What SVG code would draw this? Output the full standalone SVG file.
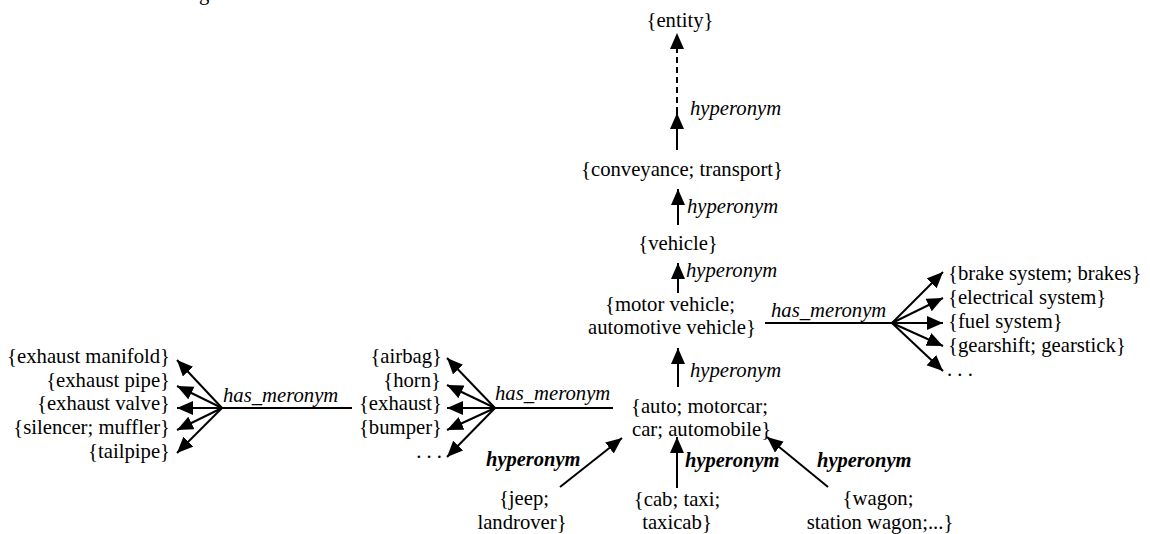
<svg xmlns="http://www.w3.org/2000/svg" width="1150" height="534" viewBox="0 0 1150 534">
  <style>
    .t { font-family: "Liberation Serif", "Times New Roman", serif; font-size: 20.7px; fill: #000; }
    .mid { text-anchor: middle; }
    .end { text-anchor: end; }
    .rel { font-family: "Liberation Serif", "Times New Roman", serif; font-size: 20.7px; font-style: italic; fill: #000; }
    .relb { font-family: "Liberation Serif", "Times New Roman", serif; font-size: 20.5px; font-style: italic; font-weight: bold; fill: #000; }
    .edge { stroke: #000; stroke-width: 2; fill: none; marker-end: url(#arrow); }
    .plain { stroke: #000; stroke-width: 2; fill: none; }
    .dash { stroke-dasharray: 6 4; }
  </style>
  <defs>
    <marker id="arrow" markerUnits="userSpaceOnUse" markerWidth="17" markerHeight="15" refX="16" refY="7" orient="auto">
      <path d="M0,0 L16,7 L0,14 Z" fill="#000"/>
    </marker>
  </defs>
  <rect width="1150" height="534" fill="#fff"/>

  <!-- descender of a line above the frame -->
  <text class="t" x="199" y="0">g</text>

  <!-- synset nodes -->
  <g id="entity"><text class="t mid" x="680" y="27">{entity}</text></g>
  <g id="conveyance"><text class="t mid" x="682" y="176">{conveyance; transport}</text></g>
  <g id="vehicle"><text class="t mid" x="678" y="250">{vehicle}</text></g>
  <g id="motor-vehicle">
    <text class="t mid" x="670" y="311">{motor vehicle;</text>
    <text class="t mid" x="672" y="334">automotive vehicle}</text>
  </g>
  <g id="auto">
    <text class="t" x="631" y="413">{auto; motorcar;</text>
    <text class="t" x="632" y="436">car; automobile}</text>
  </g>
  <g id="motor-vehicle-parts">
    <text class="t" x="948" y="280">{brake system; brakes}</text>
    <text class="t" x="948" y="304">{electrical system}</text>
    <text class="t" x="948" y="328">{fuel system}</text>
    <text class="t" x="948" y="352">{gearshift; gearstick}</text>
    <text class="t" x="947" y="376">. . .</text>
  </g>
  <g id="auto-parts">
    <text class="t end" x="442" y="363">{airbag}</text>
    <text class="t end" x="441" y="387">{horn}</text>
    <text class="t end" x="442" y="410">{exhaust}</text>
    <text class="t end" x="442" y="434">{bumper}</text>
    <text class="t end" x="442" y="458">. . .</text>
  </g>
  <g id="exhaust-parts">
    <text class="t end" x="170" y="363">{exhaust manifold}</text>
    <text class="t end" x="170" y="387">{exhaust pipe}</text>
    <text class="t end" x="170" y="410">{exhaust valve}</text>
    <text class="t end" x="170" y="434">{silencer; muffler}</text>
    <text class="t end" x="170" y="458">{tailpipe}</text>
  </g>
  <g id="jeep">
    <text class="t mid" x="524" y="505">{jeep;</text>
    <text class="t mid" x="522" y="529">landrover}</text>
  </g>
  <g id="cab">
    <text class="t mid" x="677" y="506">{cab; taxi;</text>
    <text class="t mid" x="677" y="529">taxicab}</text>
  </g>
  <g id="wagon">
    <text class="t mid" x="878" y="505">{wagon;</text>
    <text class="t mid" x="880" y="529">station wagon;...}</text>
  </g>

  <!-- relations -->
  <g id="connectors">
    <!-- hyperonym chain -->
    <line class="edge" x1="677" y1="150" x2="677" y2="113"/>
    <line class="edge dash" x1="677" y1="113" x2="677" y2="33"/>
    <line class="edge" x1="678" y1="225" x2="678" y2="189"/>
    <line class="edge" x1="678" y1="293" x2="678" y2="263"/>
    <line class="edge" x1="678" y1="387" x2="678" y2="348"/>

    <!-- motor vehicle meronyms -->
    <line class="plain" x1="765" y1="323" x2="892" y2="323"/>
    <line class="edge" x1="892" y1="323" x2="943" y2="272"/>
    <line class="edge" x1="892" y1="323" x2="943" y2="298"/>
    <line class="edge" x1="892" y1="323" x2="943" y2="323"/>
    <line class="edge" x1="892" y1="323" x2="943" y2="346"/>
    <line class="edge" x1="892" y1="323" x2="943" y2="371"/>

    <!-- auto meronyms -->
    <line class="plain" x1="613" y1="408" x2="495" y2="408"/>
    <line class="edge" x1="495" y1="408" x2="447" y2="358"/>
    <line class="edge" x1="495" y1="408" x2="447" y2="385"/>
    <line class="edge" x1="495" y1="408" x2="447" y2="408"/>
    <line class="edge" x1="495" y1="408" x2="447" y2="430"/>
    <line class="edge" x1="495" y1="408" x2="447" y2="457"/>

    <!-- exhaust meronyms -->
    <line class="plain" x1="352" y1="408" x2="222" y2="408"/>
    <line class="edge" x1="222" y1="408" x2="177" y2="360"/>
    <line class="edge" x1="222" y1="408" x2="177" y2="386"/>
    <line class="edge" x1="222" y1="408" x2="177" y2="408"/>
    <line class="edge" x1="222" y1="408" x2="177" y2="430"/>
    <line class="edge" x1="222" y1="408" x2="177" y2="453"/>

    <!-- hyponyms of auto -->
    <line class="edge" x1="560" y1="487" x2="622" y2="438"/>
    <line class="edge" x1="677" y1="488" x2="677" y2="437"/>
    <line class="edge" x1="828" y1="487" x2="767" y2="437"/>

    <!-- relation labels -->
    <text class="rel" x="690" y="115">hyperonym</text>
    <text class="rel" x="687" y="213">hyperonym</text>
    <text class="rel" x="686" y="277">hyperonym</text>
    <text class="rel" x="690" y="377">hyperonym</text>
    <text class="rel" x="771" y="317">has_meronym</text>
    <text class="rel" x="495" y="400">has_meronym</text>
    <text class="rel" x="223" y="402">has_meronym</text>
    <text class="relb" x="486" y="466">hyperonym</text>
    <text class="relb" x="685" y="467">hyperonym</text>
    <text class="relb" x="817" y="467">hyperonym</text>
  </g>
</svg>
